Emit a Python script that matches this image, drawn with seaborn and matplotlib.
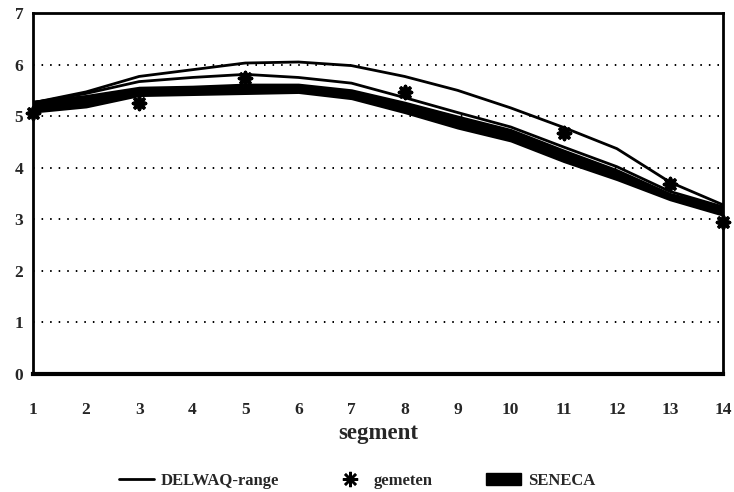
import numpy as np
import pandas as pd
import matplotlib
matplotlib.use("Agg")
import matplotlib.pyplot as plt
from matplotlib.lines import Line2D
from matplotlib.patches import Patch
import seaborn as sns

# ---- data ----
segments = [1, 2, 3, 4, 5, 6, 7, 8, 9, 10, 11, 12, 13, 14]
delwaq_upper = [5.26, 5.47, 5.77, 5.90, 6.03, 6.05, 5.98, 5.77, 5.50, 5.16, 4.78, 4.37, 3.72, 3.28]
delwaq_lower = [5.26, 5.44, 5.67, 5.75, 5.81, 5.75, 5.64, 5.36, 5.07, 4.79, 4.40, 4.02, 3.54, 3.24]
seneca_high = [5.29, 5.40, 5.56, 5.58, 5.62, 5.62, 5.51, 5.27, 5.00, 4.74, 4.34, 3.96, 3.50, 3.24]
seneca_low = [5.08, 5.18, 5.40, 5.42, 5.44, 5.46, 5.34, 5.07, 4.77, 4.52, 4.12, 3.77, 3.38, 3.08]
gemeten_x = [1, 3, 5, 8, 11, 13, 14]
gemeten_y = [5.07, 5.26, 5.73, 5.46, 4.68, 3.69, 2.94]
x_ticks = list(range(1, 15))
y_ticks = list(range(0, 8))
legend_labels = ["DELWAQ-range", "gemeten", "SENECA"]

sns.set_theme(style="white")
plt.rcParams["font.family"] = ["Liberation Serif", "DejaVu Serif"]
plt.rcParams["font.weight"] = "bold"

fig = plt.figure(figsize=(7.34, 4.92), dpi=100)
ax = fig.add_axes([33 / 734, 1 - 374 / 492, (723 - 33) / 734, (374 - 13) / 492])

df = pd.DataFrame({"segment": segments, "upper": delwaq_upper, "lower": delwaq_lower,
                   "s_hi": seneca_high, "s_lo": seneca_low})
dg = pd.DataFrame({"segment": gemeten_x, "value": gemeten_y})

# grid
for yv in y_ticks[1:-1]:
    ax.axhline(yv, color="black", lw=1.4, ls=(0, (0.8, 3.6)), zorder=1)

# SENECA band
ax.fill_between(df["segment"], df["s_lo"], df["s_hi"], color="black", lw=1.5,
                edgecolor="black", zorder=3)
# DELWAQ range lines
sns.lineplot(data=df, x="segment", y="upper", color="black", lw=2.0, ax=ax, zorder=4)
sns.lineplot(data=df, x="segment", y="lower", color="black", lw=2.0, ax=ax, zorder=4)
# measured
sns.scatterplot(data=dg, x="segment", y="value", marker=(8, 2, 0), s=75, color="black",
                edgecolor="black", linewidth=2.6, ax=ax, zorder=5, clip_on=False)

ax.set_xlim(1, 14)
ax.set_ylim(0, 7)
ax.set_xticks(x_ticks)
ax.set_yticks(y_ticks)
ax.set_xticklabels([str(v) for v in x_ticks], fontsize=12.5, fontweight="bold")
ax.set_yticklabels([str(v) for v in y_ticks], fontsize=12.5, fontweight="bold")
ax.tick_params(axis="x", direction="inout", length=15, width=2, pad=13, color="black")
ax.tick_params(axis="y", direction="out", length=5, width=1.5, pad=2, color="black")
ax.set_xlabel("segment", fontsize=16.5, fontweight="bold", labelpad=3)
ax.set_ylabel("")
for side in ["left", "right", "top"]:
    ax.spines[side].set_color("black")
    ax.spines[side].set_linewidth(2)
ax.spines["bottom"].set_color("black")
ax.spines["bottom"].set_linewidth(3)
ax.grid(False)

handles = [
    Line2D([0], [0], color="black", lw=2),
    Line2D([0], [0], color="black", marker=(8, 2, 0), markersize=11, markeredgewidth=1.8, lw=0),
    Patch(facecolor="black", edgecolor="black"),
]
fig.legend(handles, legend_labels, loc="center", bbox_to_anchor=(357 / 734, 1 - 481 / 492),
           ncol=3, frameon=False, handlelength=2.1, handletextpad=0.4,
           columnspacing=3.2, prop={"family": ["Liberation Serif"], "weight": "bold", "size": 12})

fig.savefig("out.png", dpi=100)
